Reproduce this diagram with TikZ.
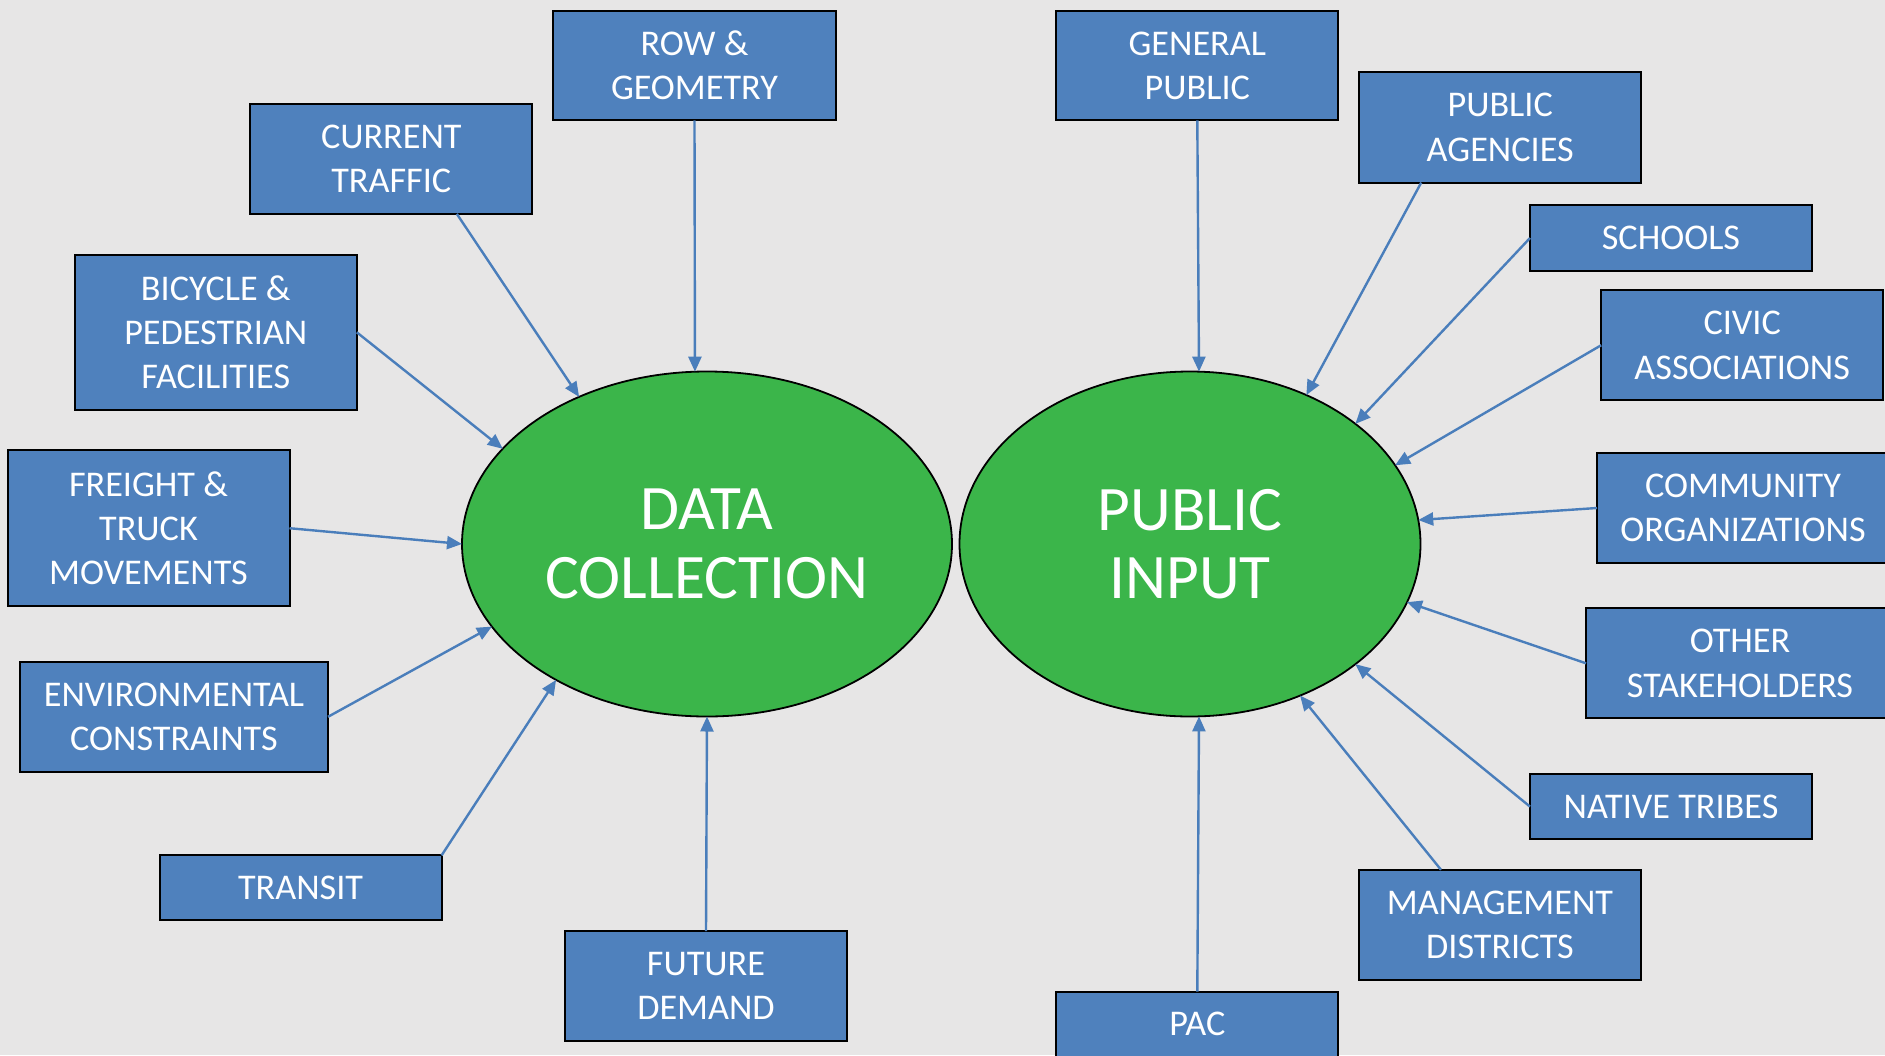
\documentclass[tikz,border=0pt]{standalone}
\usepackage{fontspec}
\setmainfont{Carlito}
\usetikzlibrary{shapes.geometric,arrows.meta}
\definecolor{bgc}{HTML}{E7E6E6}
\definecolor{boxblue}{HTML}{4F81BD}
\definecolor{arrblue}{HTML}{4A7EBB}
\definecolor{ellgreen}{HTML}{3BB54A}
\tikzset{
  box/.style={draw=black, line width=1pt, fill=boxblue, text=white,
    font=\fontsize{18.1}{22.2}\selectfont, align=center,
    inner sep=0pt, outer sep=0pt, minimum width=141pt, minimum height=55pt},
  big/.style={ellipse, draw=black, line width=0.9pt, fill=ellgreen, text=white,
    font=\fontsize{31.7}{34.2}\selectfont, align=center,
    inner sep=0pt, outer sep=0pt, minimum height=172.5pt},
  arr/.style={draw=arrblue, line width=1.2pt, -{Triangle[length=7.5pt,width=6.5pt]}}
}
\begin{document}
\begin{tikzpicture}[x=0.5pt,y=-0.5pt]
\fill[bgc] (0,0) rectangle (1885,1055);
\useasboundingbox (0,0) rectangle (1885,1055);
% ellipses
\node[big, minimum width=245pt] (dc) at (707,544) {DATA\\COLLECTION};
\node[big, minimum width=230.5pt] (pi) at (1190,544) {PUBLIC\\INPUT};
% left boxes
\node[box, minimum width=141.5pt, minimum height=54.75pt] (row) at (694.5,65.5) {ROW \&\\GEOMETRY};
\node[box, minimum height=55pt] (ct) at (391.3,158.9) {CURRENT\\TRAFFIC};
\node[box, minimum height=77.75pt] (bp) at (215.8,332.3) {BICYCLE \&\\PEDESTRIAN\\FACILITIES};
\node[box, minimum height=77.9pt] (fr) at (148.5,528.2) {FREIGHT \&\\TRUCK\\MOVEMENTS};
\node[box, minimum width=154pt, minimum height=55.25pt] (env) at (174,716.8) {ENVIRONMENTAL\\CONSTRAINTS};
\node[box, minimum height=32.25pt] (tr) at (300.6,887.6) {TRANSIT};
\node[box, minimum height=55pt] (fd) at (706,986) {FUTURE\\DEMAND};
% right boxes
\node[box, minimum height=54.8pt] (gp) at (1197.3,65.6) {GENERAL\\PUBLIC};
\node[box, minimum height=55.3pt] (pa) at (1500.2,127.3) {PUBLIC\\AGENCIES};
\node[box, minimum height=32.8pt] (sc) at (1671,238) {SCHOOLS};
\node[box, minimum height=55.15pt] (ca) at (1742.2,345.2) {CIVIC\\ASSOCIATIONS};
\node[box, minimum width=146pt, minimum height=54.7pt] (co) at (1743,508) {COMMUNITY\\ORGANIZATIONS};
\node[box, minimum width=154pt, minimum height=55pt] (os) at (1740,663.3) {OTHER\\STAKEHOLDERS};
\node[box, minimum height=32.5pt] (nt) at (1671,806.6) {NATIVE TRIBES};
\node[box, minimum height=55pt] (md) at (1500,924.8) {MANAGEMENT\\DISTRICTS};
\node[box, minimum height=32.5pt] (pac) at (1197.3,1024) {PAC};
% connectors to DATA COLLECTION
\draw[arr] (row.south) -- (dc.94.1);
\draw[arr] (ct.-40.7) -- (dc.131.1);
\draw[arr] (bp.east) -- (dc.155.6);
\draw[arr] (fr.east) -- (dc.180);
\draw[arr] (env.east) -- (dc.201.4);
\draw[arr] (tr.north east) -- (dc.222.1);
\draw[arr] (fd.north) -- (dc.270);
% connectors to PUBLIC INPUT
\draw[arr] (gp.south) -- (pi.87.4);
\draw[arr] (pa.-145.2) -- (pi.52.2);
\draw[arr] (sc.west) -- (pi.36.7);
\draw[arr] (ca.west) -- (pi.21);
\draw[arr] (co.west) -- (pi.6.6);
\draw[arr] (os.west) -- (pi.-15.6);
\draw[arr] (nt.west) -- (pi.-36.9);
\draw[arr] (md.137) -- (pi.-54.9);
\draw[arr] (pac.north) -- (pi.-87.4);
\end{tikzpicture}
\end{document}
